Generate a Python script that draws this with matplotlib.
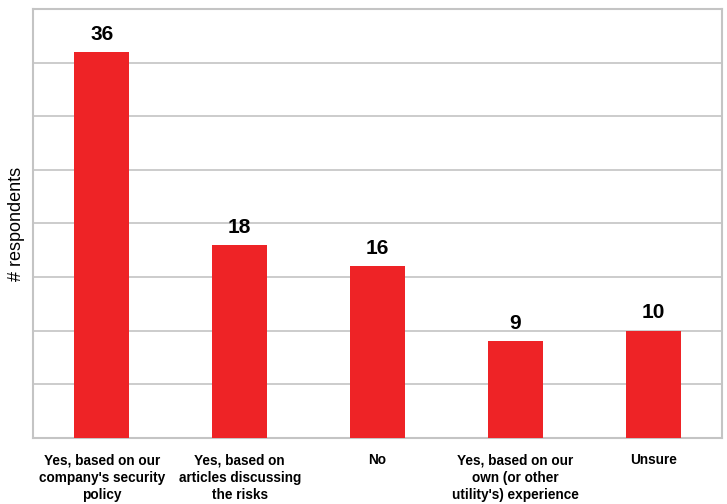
import matplotlib
matplotlib.use("Agg")
import matplotlib.pyplot as plt

categories = [
    "Yes, based on our\ncompany's security\npolicy",
    "Yes, based on\narticles discussing\nthe risks",
    "No",
    "Yes, based on our\nown (or other\nutility's) experience",
    "Unsure",
]
values = [36, 18, 16, 9, 10]
y_ticks = [0, 5, 10, 15, 20, 25, 30, 35, 40]

plt.rcParams["font.family"] = ["Liberation Sans", "DejaVu Sans"]

fig = plt.figure(figsize=(7.27, 5.04), dpi=100)
ax = fig.add_axes([33 / 727, 66 / 504, 689 / 727, 429 / 504])

x = range(len(categories))
bars = ax.bar(x, values, width=0.4, color="#EE2326", zorder=3)

for xi, v in zip(x, values):
    ax.annotate(str(v), (xi, v), xytext=(0, 6), textcoords="offset points",
                ha="center", va="bottom", fontsize=15, fontweight="bold",
                color="black")

ax.set_xlim(-0.5, len(categories) - 0.5)
ax.set_ylim(0, 40)
ax.set_yticks(y_ticks)
ax.set_yticklabels([])
ax.tick_params(axis="y", length=0)
ax.set_xticks(list(x))
ax.set_xticklabels(categories, fontsize=9.8, fontweight="bold", linespacing=1.3)
ax.tick_params(axis="x", length=0, pad=11)

ax.grid(axis="y", color="#C4C4C4", linewidth=1.2, zorder=0)
for s in ax.spines.values():
    s.set_color("#C4C4C4")
    s.set_linewidth(1.5)

ax.set_ylabel("# respondents", fontsize=13, labelpad=2)

fig.savefig("out.png", dpi=100)
